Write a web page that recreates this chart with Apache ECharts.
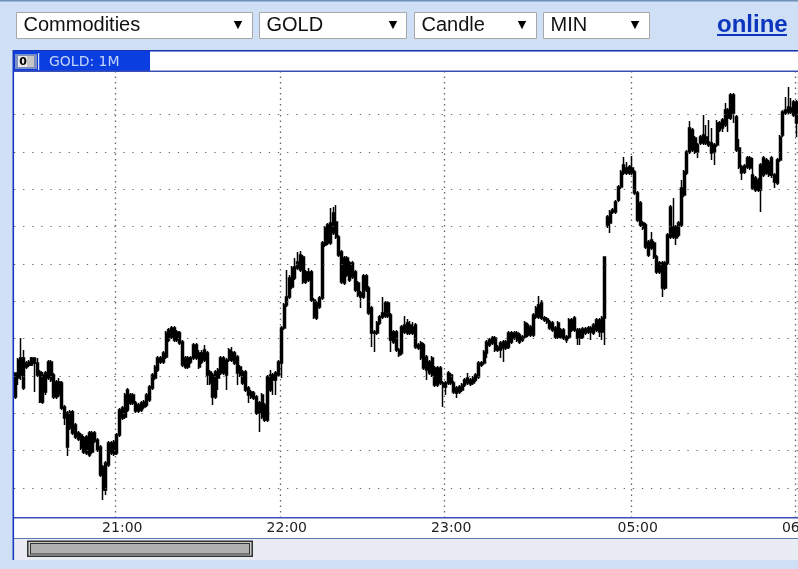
<!DOCTYPE html>
<html>
<head>
<meta charset="utf-8">
<style>html,body{margin:0;padding:0;background:#cfe0f6;overflow:hidden}#c{width:798px;height:569px}</style>
<script src="https://cdn.jsdelivr.net/npm/echarts@6/dist/echarts.min.js"></script>
</head>
<body>
<div id="c"></div>
<script>
// Price readings (index points, no price scale is printed on the chart), one minute per candle.
const opens = [
203,222,225,212,233,235,235,237,225,198,
198,208,222,220,203,203,205,192,182,153,
172,167,163,161,152,148,147,145,148,159,
150,125,110,110,135,147,146,147,165,182,
183,190,197,197,189,189,190,193,195,200,
212,222,230,238,238,243,260,263,260,260,
257,235,233,233,238,242,242,233,238,240,
225,217,203,203,222,227,227,225,240,240,
237,227,225,217,210,205,203,202,187,187,
183,180,180,210,220,220,225,237,272,295,
303,313,322,332,330,318,318,320,300,283,
282,293,302,355,357,357,367,363,345,318,
317,325,320,323,310,305,303,303,310,287,
267,267,267,277,283,284,284,260,258,250,
245,247,268,267,267,267,253,252,242,232,
230,227,225,215,215,217,213,213,217,217,
208,207,208,210,215,217,216,217,220,223,
235,237,247,255,257,250,250,250,252,252,
253,258,262,260,258,260,263,265,265,265,
283,283,282,280,278,272,270,263,263,263,
262,260,263,270,270,262,262,263,267,268,
268,267,270,268,268,282,375,377,388,388,
400,413,427,427,427,427,407,380,375,372,
353,345,352,343,328,328,312,312,337,363,
363,362,365,375,405,427,448,450,448,448,
457,457,457,455,447,448,455,470,472,475,
482,482,487,450,433,427,428,433,432,412,
410,410,410,425,427,425,425,418,417,440,
465,487,488,488,485,477];
const closes = [
227,240,242,242,237,238,242,242,237,228,
225,227,238,238,225,218,218,217,193,187,
188,188,175,167,165,162,163,167,167,167,
160,153,133,137,157,157,158,165,190,192,
205,210,205,205,197,195,197,198,205,213,
225,233,242,242,247,267,270,272,272,268,
267,258,242,242,242,255,255,247,247,250,
247,228,225,228,230,242,242,240,250,248,
247,243,233,228,228,212,208,207,203,197,
205,195,223,225,225,227,238,272,295,303,
322,332,333,338,345,343,328,328,328,300,
297,302,357,372,375,377,387,378,363,348,
342,342,337,337,328,317,307,324,324,312,
292,268,277,283,287,297,297,285,268,268,
250,273,275,277,275,273,275,255,257,255,
243,238,242,232,232,232,217,217,227,225,
217,212,213,215,220,222,220,222,225,237,
237,248,258,260,262,262,253,257,258,258,
267,267,267,267,265,263,277,275,273,285,
292,295,297,282,281,278,277,272,277,270,
270,263,280,280,282,270,270,271,271,272,
272,275,280,280,282,343,383,388,390,398,
413,428,435,432,433,432,428,407,397,377,
375,358,360,357,343,337,337,337,365,393,
373,373,377,412,428,448,472,470,462,455,
463,465,463,458,457,455,477,477,480,490,
490,505,505,483,452,433,434,442,442,425,
422,420,435,442,440,438,442,425,440,463,
488,490,493,492,498,498];
const highs = [
227,242,262,250,239,240,243,242,242,230,
228,229,240,240,227,220,222,219,195,189,
190,190,177,169,167,164,165,169,169,169,
162,155,135,139,159,159,160,167,192,194,
207,212,207,207,199,197,199,200,207,215,
227,235,244,244,249,269,272,274,274,270,
269,260,244,244,244,257,257,250,250,255,
249,230,227,230,232,244,244,242,252,253,
249,245,235,230,230,214,210,209,205,199,
207,197,225,230,227,229,240,274,297,330,
325,334,342,348,349,345,330,332,330,302,
299,304,359,374,377,392,393,395,365,350,
344,344,339,339,330,319,309,326,326,314,
294,270,279,285,303,299,299,287,270,270,
252,275,284,281,279,278,277,257,259,257,
245,240,244,234,234,234,219,219,229,227,
219,214,215,217,222,227,222,224,227,239,
239,250,260,262,264,264,255,259,260,260,
269,269,269,269,267,265,279,277,275,287,
294,304,300,284,283,280,279,274,279,272,
272,265,282,282,284,272,272,273,273,274,
274,277,282,282,284,343,385,390,392,400,
415,430,443,438,435,444,430,409,399,379,
377,360,368,359,345,339,339,339,367,395,
402,375,379,420,430,450,479,472,464,457,
465,485,475,480,472,457,480,479,482,497,
492,507,507,485,461,435,436,444,444,442,
424,422,437,444,442,440,444,427,442,465,
490,503,513,502,500,500];
const lows = [
201,215,220,210,231,233,234,208,223,197,
196,205,220,218,201,201,203,190,175,144,
170,165,161,159,150,146,145,143,146,157,
148,123,100,105,133,145,144,145,163,180,
181,188,195,195,187,187,188,191,193,198,
210,220,228,236,236,241,258,261,258,258,
255,233,231,231,236,240,240,231,236,238,
215,215,195,201,210,225,225,210,238,238,
235,215,223,215,208,197,201,200,185,168,
181,178,178,208,205,205,223,222,270,293,
301,311,320,330,328,316,316,318,298,281,
280,291,300,353,355,355,365,361,343,316,
315,323,318,321,308,303,292,301,308,285,
253,248,265,275,281,282,282,248,256,248,
243,245,266,265,265,265,251,250,240,230,
220,225,223,213,213,215,193,205,215,215,
206,202,206,208,213,215,214,215,218,221,
233,235,242,253,255,248,248,242,238,250,
251,256,260,258,256,258,261,263,263,263,
281,281,280,278,276,270,268,261,261,261,
260,257,261,268,268,255,255,261,265,266,
260,265,268,263,260,255,372,367,386,386,
398,411,425,425,425,425,405,378,373,370,
351,343,350,341,326,326,303,310,335,361,
361,355,363,373,403,425,446,448,446,442,
455,455,455,453,440,435,453,468,468,473,
468,480,477,448,431,420,426,431,430,410,
408,408,388,423,425,423,422,412,415,438,
463,485,486,486,483,463];

// Minute stamps: the session runs 20:23-23:59, then resumes at 04:52.
const sessions = [[20*60+23, 217], [4*60+52, 69]];
const categories = [];
sessions.forEach(([start, count]) => {
  for (let i = 0; i < count; i++) {
    const m = start + i;
    categories.push(String(Math.floor(m/60)).padStart(2,'0') + ':' + String(m%60).padStart(2,'0'));
  }
});
const tickLabels = ['21:00','22:00','23:00','05:00','06:00'];
const gridValues = [112,149.33,186.67,224,261.33,298.67,336,373.33,410.67,448,485.33];
const selectors = ['Commodities','GOLD','Candle','MIN'];
const titleText = 'GOLD: 1M';
const linkText = 'online';

const candleData = categories.map((_, i) => [opens[i], closes[i], lows[i], highs[i]]);
const isTick = (name) => tickLabels.includes(name);
const rect = (x,y,w,h,fill,extra) => Object.assign({type:'rect',shape:{x,y,width:w,height:h},style:{fill},silent:true,z:-5},extra||{});
const label = (x,y,text,font,fill,align) => ({type:'text',x,y,silent:true,z:20,style:{text,font,fill,textAlign:align||'left',textVerticalAlign:'middle'}});

const selectBoxes = [[16,236,238],[259,147,393],[414,122,522],[543,106,635]];
const chrome = [
  rect(0,0,798,1.5,'#6f8fb8'),
  rect(13,50,785,1.5,'#1a33b0',{z:-3}),
  rect(14,51.5,784,19.5,'#ffffff'),
  rect(14,517,784,21,'#ffffff'),
  rect(14,538,784,22,'#e9ecf3'),
  rect(13,70.5,785,1.5,'#3a4fb5',{z:15}),
  rect(13,517,785,1.5,'#3a4fb5',{z:15}),
  rect(13,538,785,1,'#5f78b5',{z:15}),
  rect(12.5,50,1.6,510,'#1a3bc0',{z:15}),
  rect(14,51,136,20,'#0a3ee0',{z:1}),
  rect(15,54,22,15,'#7c8fc0',{z:2}),
  rect(18,56,16,11,'#c6c6c6',{z:3}),
  rect(18,56,9,11,'#e8e8e8',{z:3}),
  rect(38,53,1.2,17,'#d8e2fa',{z:3}),
  label(23,62,'0','bold 11px "DejaVu Sans"','#000000','center'),
  label(49,62,titleText,'14px "DejaVu Sans"','#c4d4fa'),
  // Scroll thumb
  rect(27,540.5,226,16.5,'#333333',{z:1}),
  rect(28.5,542,223,13.5,'#c9c9c9',{z:2}),
  rect(30,543,220,11.5,'#333333',{z:3}),
  rect(31,544,218,9.5,'#b0b0b0',{z:4}),
  // Link
  label(717,25,linkText,'bold 24px "Liberation Sans"','#0b35bd'),
  rect(717,34,70,2,'#0b35bd',{z:20})
];
selectBoxes.forEach(([x,w,ax],i) => {
  chrome.push({type:'rect',silent:true,z:1,shape:{x:x+.5,y:12.5,width:w,height:26},style:{fill:'#ffffff',stroke:'#a8a8a8',lineWidth:1}});
  chrome.push(label(x+7.5,25.5,selectors[i],'20px "Liberation Sans"','#111111'));
  chrome.push(label(ax,25,'▼','11px "DejaVu Sans"','#000000','center'));
});

const chart = echarts.init(document.getElementById('c'), null, {width:798,height:569});
chart.setOption({
  animation:false,
  backgroundColor:'#cfe0f6',
  textStyle:{fontFamily:'"DejaVu Sans"'},
  graphic:{elements:chrome},
  grid:{show:true,left:14,right:0,top:71,bottom:52,backgroundColor:'#ffffff',borderWidth:0,containLabel:false,outerBoundsMode:'none'},
  xAxis:{
    type:'category',data:categories,boundaryGap:true,
    axisLine:{show:false},axisTick:{show:false},
    axisLabel:{interval:(i,name)=>isTick(name),margin:4,color:'#222222',fontSize:14,fontFamily:'"DejaVu Sans"',padding:[0,0,0,11],hideOverlap:false},
    splitLine:{show:true,interval:(i,name)=>isTick(name),lineStyle:{color:'#666666',width:1.3,type:[1.4,4.1]}}
  },
  yAxis:{type:'value',min:83,max:529,axisLine:{show:false},axisTick:{show:false},axisLabel:{show:false},splitLine:{show:false}},
  series:[
    {type:'line',data:[],z:1,silent:true,symbol:'none',
      markLine:{silent:true,symbol:'none',animation:false,label:{show:false},
        lineStyle:{color:'#666666',width:1.2,type:[1.3,7.8]},
        data:gridValues.map(v=>({yAxis:v}))}},
    {type:'candlestick',data:candleData,z:3,barWidth:2.5,silent:true,
      itemStyle:{color:'#000000',color0:'#000000',borderColor:'#000000',borderColor0:'#000000',borderWidth:1.5}}
  ]
});
</script>
</body>
</html>
